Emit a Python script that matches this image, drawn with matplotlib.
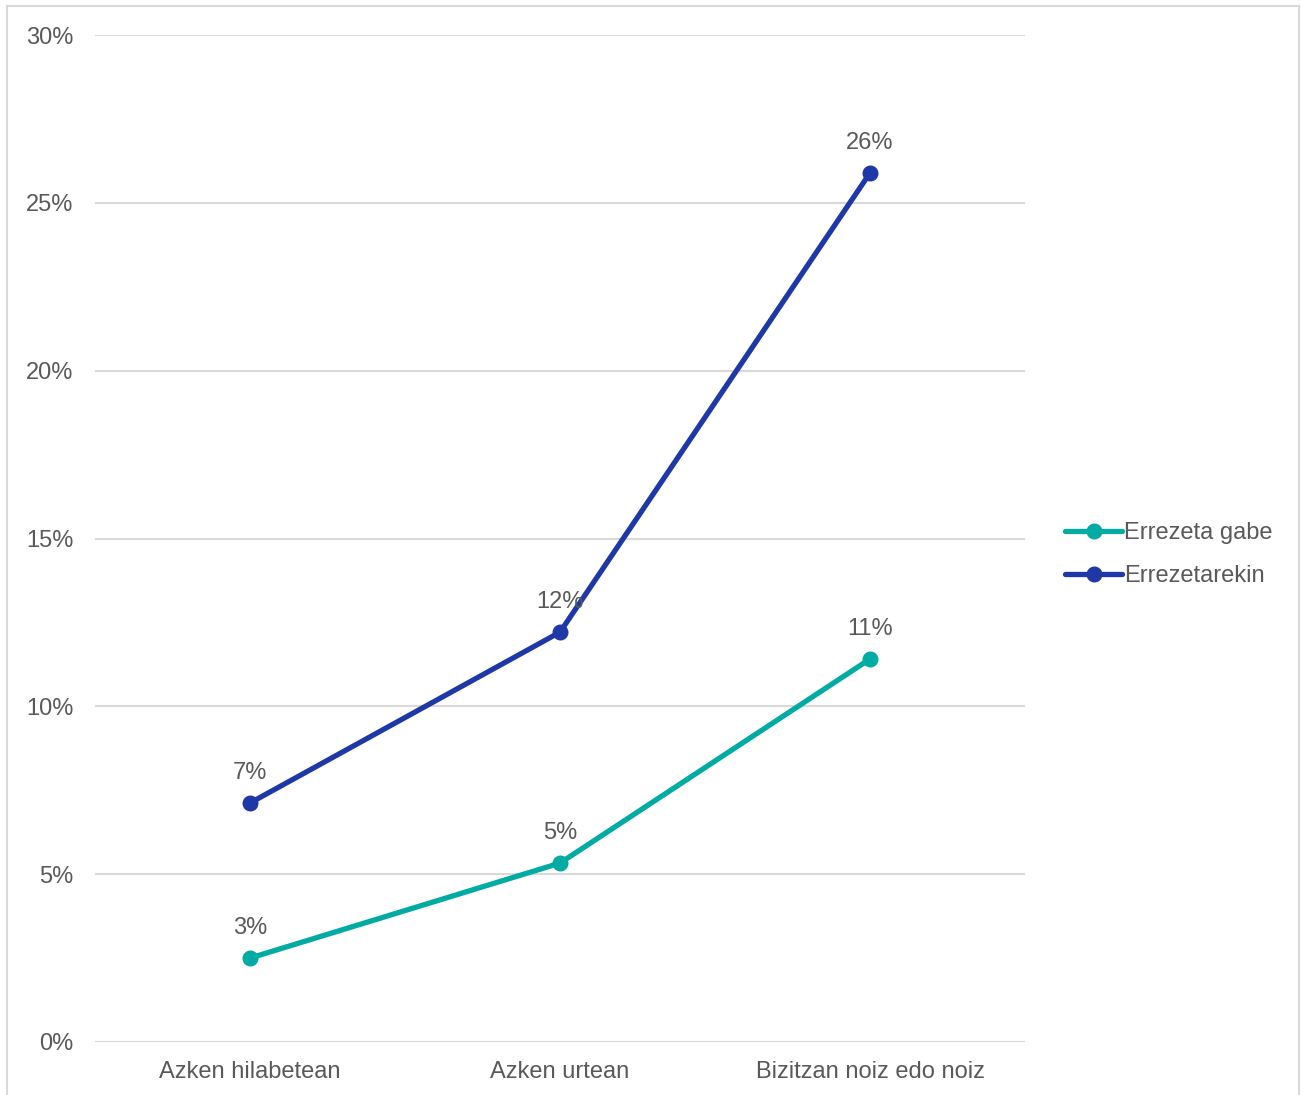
import matplotlib
matplotlib.use("Agg")
import matplotlib.pyplot as plt
from matplotlib.patches import Rectangle
from matplotlib.ticker import FuncFormatter

categories = ["Azken hilabetean", "Azken urtean", "Bizitzan noiz edo noiz"]
series_names = ["Errezeta gabe", "Errezetarekin"]
errezeta_gabe = [2.5, 5.33, 11.41]
errezetarekin = [7.12, 12.21, 25.89]
y_ticks = [0, 5, 10, 15, 20, 25, 30]

colors = ["#00ABA3", "#1E38A8"]
text_color = "#595959"
grid_color = "#D9D9D9"

plt.rcParams['font.family'] = ['Liberation Sans', 'DejaVu Sans']

W, H = 1301, 1095
fig = plt.figure(figsize=(W / 100, H / 100), dpi=100)
ax = fig.add_axes([95 / W, 1 - 1042 / H, (1025 - 95) / W, (1042 - 35) / H])

x = list(range(len(categories)))
handles = []
for vals, name, c in zip([errezeta_gabe, errezetarekin], series_names, colors):
    h, = ax.plot(x, vals, color=c, lw=3.8, marker="o", ms=10.5, label=name,
                 solid_capstyle="round", zorder=3)
    handles.append(h)
    for xi, v in zip(x, vals):
        ax.annotate(f"{int(v + 0.5)}%", (xi, v), xytext=(0, 21.5), textcoords="offset points",
                    ha="center", va="center", fontsize=17, color=text_color, zorder=4)

ax.set_xlim(-0.5, len(categories) - 0.5)
ax.set_ylim(0, 30)
ax.set_yticks(y_ticks)
ax.yaxis.set_major_formatter(FuncFormatter(lambda v, p: f"{int(v)}%"))
ax.set_xticks(x)
ax.set_xticklabels(categories)
ax.tick_params(axis="both", length=0, labelsize=17, labelcolor=text_color)
ax.tick_params(axis="y", pad=15.5)
ax.tick_params(axis="x", pad=13.5)
ax.grid(axis="y", color=grid_color, lw=1.5)
ax.set_axisbelow(True)
for s in ax.spines.values():
    s.set_visible(False)

leg = fig.legend(handles=handles, labels=series_names, loc="center left",
                 bbox_to_anchor=(1044 / W, 1 - 554.5 / H), frameon=False,
                 fontsize=17, labelcolor=text_color, handlelength=2.4,
                 handletextpad=0.1, labelspacing=0.89)

fig.add_artist(Rectangle((7 / W, -0.05), (1299 - 7) / W, 1.05 - 6 / H,
                         transform=fig.transFigure, fill=False,
                         edgecolor="#D9D9D9", lw=1.5))

fig.savefig("out.png", dpi=100)
